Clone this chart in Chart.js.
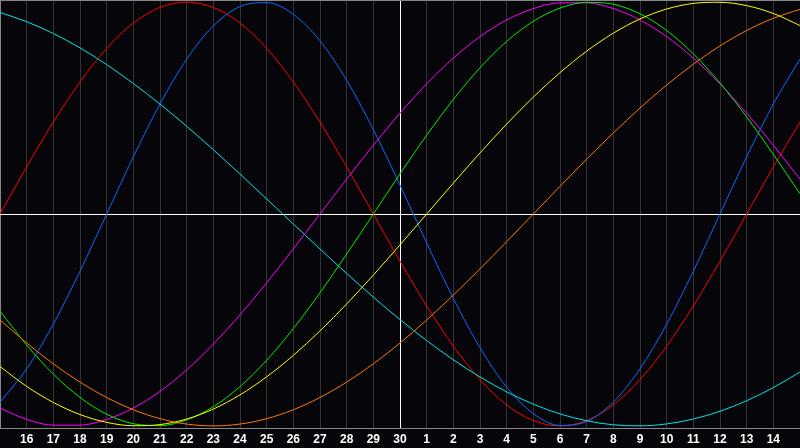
<!DOCTYPE html>
<html>
<head>
<meta charset="utf-8">
<script src="https://cdn.jsdelivr.net/npm/chart.js@4/dist/chart.umd.min.js"></script>
<style>
  html, body { margin: 0; padding: 0; background: #05050a; }
  canvas { display: block; }
</style>
</head>
<body>
<canvas id="bio" width="800" height="448"></canvas>
<script>
// days shown along the bottom (first and last are not labelled)
const days = [15,16,17,18,19,20,21,22,23,24,25,26,27,28,29,30,1,2,3,4,5,6,7,8,9,10,11,12,13,14,15];

// values, one per day, -1..1
const red = [0,0.2225,0.4339,0.6235,0.7818,0.9010,0.9749,1,0.9749,0.9010,0.7818,0.6235,0.4339,0.2225,0,-0.2225,-0.4339,-0.6235,-0.7818,-0.9010,-0.9749,-1,-0.9749,-0.9010,-0.7818,-0.6235,-0.4339,-0.2225,0,0.2225,0.4339];
const blue = [-0.8879,-0.7308,-0.5196,-0.2698,0,0.2698,0.5196,0.7308,0.8879,0.9791,0.9977,0.9423,0.8170,0.6311,0.3984,0.1362,-0.1362,-0.3984,-0.6311,-0.8170,-0.9423,-0.9977,-0.9791,-0.8879,-0.7308,-0.5196,-0.2698,0,0.2698,0.5196,0.7308];
const cyan = [0.9511,0.9078,0.8518,0.7841,0.7050,0.6160,0.5188,0.4140,0.3034,0.1886,0.0711,-0.0474,-0.1652,-0.2807,-0.3922,-0.4983,-0.5974,-0.6881,-0.7690,-0.8393,-0.8976,-0.9435,-0.9760,-0.9949,-0.9998,-0.9907,-0.9677,-0.9311,-0.8814,-0.8193,-0.7457];
const magenta = [-0.9158,-0.9694,-0.9966,-0.9966,-0.9694,-0.9158,-0.8372,-0.7357,-0.6142,-0.4759,-0.3247,-0.1646,0,0.1646,0.3247,0.4759,0.6142,0.7357,0.8372,0.9158,0.9694,0.9966,0.9966,0.9694,0.9158,0.8372,0.7357,0.6142,0.4759,0.3247,0.1646];
const green = [-0.4582,-0.6182,-0.7557,-0.8660,-0.9450,-0.9898,-0.9989,-0.9718,-0.9096,-0.8146,-0.6901,-0.5406,-0.3717,-0.1893,0,0.1893,0.3717,0.5406,0.6901,0.8146,0.9096,0.9718,0.9989,0.9898,0.9450,0.8660,0.7557,0.6182,0.4582,0.2817,0.0951];
const yellow = [-0.7198,-0.8135,-0.8894,-0.9465,-0.9834,-0.9993,-0.9940,-0.9675,-0.9205,-0.8536,-0.7685,-0.6671,-0.5517,-0.4245,-0.2881,-0.1456,0,0.1456,0.2881,0.4245,0.5517,0.6671,0.7685,0.8536,0.9205,0.9675,0.9940,0.9993,0.9834,0.9465,0.8894];
const orange = [-0.5,-0.6088,-0.7071,-0.7934,-0.8660,-0.9239,-0.9659,-0.9914,-1,-0.9914,-0.9659,-0.9239,-0.8660,-0.7934,-0.7071,-0.6088,-0.5,-0.3827,-0.2588,-0.1305,0,0.1305,0.2588,0.3827,0.5,0.6088,0.7071,0.7934,0.8660,0.9239,0.9659];

const ctx = document.getElementById('bio');

function line(data, color) {
    return {
        data: data,
        borderColor: color,
        borderWidth: 1,
        pointRadius: 0,
        cubicInterpolationMode: 'monotone',
        fill: false
    };
}

const bg = {
    id: 'bg',
    beforeDraw(chart) {
        const c = chart.ctx;
        c.save();
        c.fillStyle = '#05050a';
        c.fillRect(0, 0, chart.width, chart.height);
        c.restore();
    }
};

new Chart(ctx, {
    type: 'line',
    data: {
        labels: days,
        datasets: [
            line(orange, '#ff7a00'),
            line(yellow, '#ffff00'),
            line(green, '#00ee00'),
            line(magenta, '#ff00ff'),
            line(cyan, '#00e8e8'),
            line(blue, '#0a6cff'),
            line(red, '#ff0000')
        ]
    },
    options: {
        responsive: false,
        animation: false,
        devicePixelRatio: 1,
        layout: { padding: 0 },
        plugins: {
            legend: { display: false },
            tooltip: { enabled: false }
        },
        scales: {
            x: {
                offset: false,
                grid: {
                    drawTicks: false,
                    color: (c) => {
                        if (c.index === 15) return '#ffffff';
                        if (c.index === 0 || c.index === days.length - 1) return '#888888';
                        return '#333333';
                    }
                },
                border: { display: true, color: '#888888' },
                ticks: {
                    autoSkip: false,
                    maxRotation: 0,
                    padding: 4,
                    color: '#ffffff',
                    font: { family: 'Liberation Sans', size: 12, weight: 'bold' },
                    callback: (v, i) => (i === 0 || i === days.length - 1) ? '' : days[i]
                },
                afterFit: (s) => { s.height = 20; s.paddingLeft = 0; s.paddingRight = 0; }
            },
            y: {
                min: -1.01,
                max: 1.01,
                afterBuildTicks: (s) => { s.ticks = [{value: -1.01}, {value: 0}, {value: 1.01}]; },
                grid: {
                    drawTicks: false,
                    color: (c) => c.tick.value === 0 ? '#ffffff' : '#888888'
                },
                border: { display: false },
                ticks: { display: false },
                afterFit: (s) => { s.width = 0; s.paddingTop = 0; s.paddingBottom = 0; }
            }
        }
    },
    plugins: [bg]
});
</script>
</body>
</html>
